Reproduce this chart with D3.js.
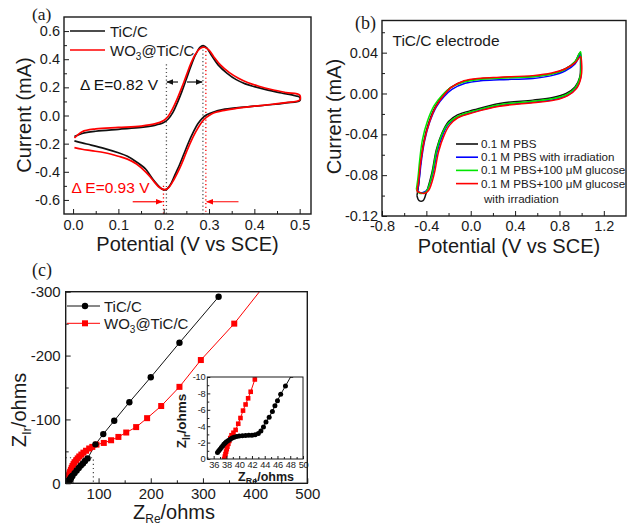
<!DOCTYPE html>
<html>
<head>
<meta charset="utf-8">
<script src="https://cdn.jsdelivr.net/npm/d3@7"></script>
<style>
  body { margin: 0; background: #fff; }
</style>
</head>
<body>
<script>
// ---- panel (a): CV, [potential V, current mA]
var ticA = [[0.003,-0.150],[0.02,-0.128],[0.05,-0.112],[0.1,-0.098],[0.15,-0.085],[0.18,-0.07],[0.2,-0.05],
  [0.21,-0.025],[0.22,0.02],[0.23,0.09],[0.24,0.17],[0.25,0.26],[0.26,0.35],[0.27,0.43],[0.28,0.485],[0.287,0.497],
  [0.295,0.48],[0.305,0.43],[0.32,0.36],[0.34,0.30],[0.36,0.255],[0.38,0.225],[0.4,0.205],[0.43,0.18],[0.46,0.16],
  [0.49,0.14],[0.5,0.13],[0.5,0.105],[0.47,0.09],[0.44,0.078],[0.4,0.066],[0.36,0.055],[0.33,0.042],[0.31,0.025],
  [0.295,0.005],[0.285,-0.02],[0.275,-0.06],[0.265,-0.12],[0.255,-0.19],[0.245,-0.27],[0.235,-0.35],[0.225,-0.42],
  [0.215,-0.49],[0.205,-0.527],[0.198,-0.525],[0.19,-0.505],[0.18,-0.47],[0.17,-0.425],[0.16,-0.38],[0.14,-0.33],
  [0.12,-0.29],[0.1,-0.265],[0.07,-0.235],[0.04,-0.21],[0.02,-0.195],[0.003,-0.18]];
var wo3A = [[0.003,-0.16],[0.02,-0.115],[0.05,-0.095],[0.1,-0.085],[0.15,-0.075],[0.18,-0.06],[0.2,-0.035],
  [0.21,-0.005],[0.22,0.05],[0.23,0.12],[0.24,0.2],[0.25,0.285],[0.26,0.37],[0.27,0.435],[0.28,0.475],[0.29,0.485],
  [0.3,0.465],[0.31,0.42],[0.325,0.36],[0.345,0.305],[0.365,0.265],[0.385,0.235],[0.41,0.208],[0.44,0.183],
  [0.47,0.163],[0.5,0.145],[0.5,0.11],[0.47,0.092],[0.44,0.08],[0.4,0.066],[0.36,0.05],[0.33,0.035],[0.31,0.018],
  [0.3,0.0],[0.29,-0.025],[0.28,-0.065],[0.27,-0.12],[0.26,-0.185],[0.25,-0.26],[0.24,-0.34],[0.23,-0.41],
  [0.22,-0.47],[0.21,-0.515],[0.2,-0.527],[0.19,-0.51],[0.18,-0.475],[0.17,-0.435],[0.16,-0.4],[0.14,-0.345],
  [0.12,-0.31],[0.1,-0.29],[0.07,-0.265],[0.04,-0.25],[0.02,-0.24],[0.003,-0.228]];
var peaksTiC = [0.206, 0.2865];
var peaksWO3 = [0.1995, 0.293];

// ---- panel (b): TiC/C electrode CVs
var pbs = [[-0.485,-0.100],[-0.47,-0.09],[-0.455,-0.071],[-0.425,-0.048],[-0.38,-0.029],[-0.32,-0.013],
  [-0.25,-0.002],[-0.18,0.006],[-0.06,0.012],[0.09,0.0145],[0.26,0.0155],[0.56,0.0167],[0.73,0.0194],[0.85,0.024],
  [0.94,0.031],[0.985,0.040],[0.99,0.03],[0.983,0.016],[0.94,0.0064],[0.86,0.0],[0.74,-0.004],[0.56,-0.0065],
  [0.26,-0.0097],[0.03,-0.016],[-0.12,-0.021],[-0.2,-0.0275],[-0.26,-0.039],[-0.31,-0.055],[-0.35,-0.0775],
  [-0.4,-0.097],[-0.43,-0.105],[-0.465,-0.105],[-0.485,-0.100]];
var pbsIrr = [[-0.48,-0.096],[-0.465,-0.085],[-0.445,-0.066],[-0.415,-0.046],[-0.37,-0.028],[-0.31,-0.013],
  [-0.24,-0.003],[-0.17,0.004],[-0.05,0.010],[0.09,0.0125],[0.26,0.0135],[0.56,0.0147],[0.73,0.0175],[0.85,0.022],
  [0.94,0.029],[0.99,0.038],[0.995,0.03],[0.99,0.015],[0.95,0.005],[0.87,-0.002],[0.75,-0.006],[0.56,-0.0085],
  [0.26,-0.012],[0.03,-0.018],[-0.12,-0.0235],[-0.2,-0.030],[-0.25,-0.04],[-0.3,-0.056],[-0.34,-0.078],
  [-0.39,-0.094],[-0.43,-0.097],[-0.46,-0.097],[-0.48,-0.096]];
var pbsGlu = [[-0.49,-0.094],[-0.475,-0.082],[-0.46,-0.065],[-0.435,-0.045],[-0.39,-0.027],[-0.33,-0.012],
  [-0.26,-0.002],[-0.19,0.005],[-0.07,0.011],[0.09,0.014],[0.26,0.015],[0.56,0.0165],[0.73,0.019],[0.85,0.0235],
  [0.94,0.031],[0.99,0.041],[0.995,0.032],[0.988,0.017],[0.945,0.006],[0.865,-0.001],[0.745,-0.005],[0.56,-0.0075],
  [0.26,-0.011],[0.03,-0.017],[-0.12,-0.0225],[-0.2,-0.029],[-0.26,-0.040],[-0.31,-0.057],[-0.35,-0.08],
  [-0.4,-0.096],[-0.44,-0.098],[-0.47,-0.097],[-0.49,-0.094]];
var pbsGluIrr = [[-0.485,-0.096],[-0.47,-0.086],[-0.452,-0.068],[-0.42,-0.047],[-0.375,-0.029],[-0.315,-0.013],
  [-0.245,-0.002],[-0.175,0.006],[-0.06,0.0125],[0.09,0.015],[0.26,0.016],[0.56,0.0175],[0.73,0.020],[0.85,0.024],
  [0.94,0.030],[0.99,0.036],[1.0,0.03],[0.995,0.016],[0.955,0.005],[0.875,-0.002],[0.755,-0.0065],[0.56,-0.009],
  [0.26,-0.0125],[0.03,-0.0185],[-0.12,-0.024],[-0.19,-0.031],[-0.24,-0.041],[-0.29,-0.057],[-0.33,-0.079],
  [-0.38,-0.095],[-0.42,-0.098],[-0.46,-0.097],[-0.485,-0.096]];
var seriesB = ["0.1 M PBS", "0.1 M PBS with irradiation", "0.1 M PBS+100 \u03bcM glucose", "0.1 M PBS+100 \u03bcM glucose"];
var colorsB = ["#111", "#0000ff", "#00e600", "#ff0000"];

// ---- panel (c): Nyquist, [Z_Re, Z_Im] (ohms)
var ticZ = [[36.6,-0.8],[36.8,-1.0],[37.0,-1.2],[37.2,-1.4],[37.4,-1.6],[37.6,-1.8],[37.8,-1.95],[38.0,-2.1],
  [38.3,-2.25],[38.6,-2.4],[38.9,-2.55],[39.2,-2.65],[39.6,-2.75],[40.0,-2.8],[40.5,-2.85],[41.0,-2.88],[41.5,-2.9],
  [42.0,-2.9],[42.5,-2.95],[43.0,-3.1],[43.4,-3.4],[43.8,-3.9],[44.2,-4.5],[44.7,-5.1],[45.2,-5.8],[45.6,-6.5],
  [46.0,-7.1],[46.5,-7.9],[47.25,-8.9],[48.2,-10.2],[50,-12],[54,-16],[58,-20],[62,-24],[66,-28],[70,-31],
  [74,-35],[79,-39],[94,-61],[109,-77],[130,-98],[159,-127],[200,-166],[255,-220],[330,-292]];
var wo3Z = [[37.65,0],[37.75,-0.3],[37.85,-0.6],[37.95,-0.9],[38.05,-1.2],[38.15,-1.5],[38.3,-1.85],[38.45,-2.2],
  [38.6,-2.55],[38.8,-2.9],[39.1,-3.2],[39.44,-3.55],[39.85,-4.3],[40.2,-5.0],[40.6,-5.9],[41.0,-6.65],[41.4,-7.4],
  [41.8,-8.2],[42.45,-9.7],[43.3,-12.5],[44.3,-15.5],[45.5,-18],[47,-21],[48.5,-24],[50,-27],[52,-30],[54,-33],
  [57,-36],[60,-39],[63,-42],[67,-45],[71,-48],[76,-51],[82,-54.5],[88,-57],[96,-60.6],[110,-63.2],[124,-67.4],
  [138,-72.6],[153,-79.5],[172,-88],[193,-102],[220,-121],[255,-151],[296,-193],[360,-250],[420,-312]];

var sans = "'Liberation Sans', Arial, sans-serif";
var serif = "'Liberation Serif', 'Times New Roman', serif";
var ink = "#1a1a1a";

var svg = d3.select("body").append("svg")
  .attr("width", 627).attr("height", 525)
  .style("font-family", sans);
svg.append("rect").attr("width", 627).attr("height", 525).attr("fill", "#fff");

function fmt(p) {
  var f = d3.format(p);
  return function(v) { return f(v).replace("\u2212", "-"); };
}

var clipCount = 0;
// one framed plot with inward major/minor ticks
function panel(box, xd, yd, o) {
  var x = d3.scaleLinear().domain(xd).range([box.l, box.r]);
  var y = d3.scaleLinear().domain(yd).range([box.b, box.t]);
  var g = svg.append("g");
  g.append("rect").attr("x", box.l).attr("y", box.t)
    .attr("width", box.r - box.l).attr("height", box.b - box.t).attr("fill", "#fff");
  var id = "clip" + (clipCount++);
  g.append("clipPath").attr("id", id).append("rect")
    .attr("x", box.l).attr("y", box.t).attr("width", box.r - box.l).attr("height", box.b - box.t);
  var plot = g.append("g").attr("clip-path", "url(#" + id + ")");

  function ax(axis, tr) {
    var a = g.append("g").attr("transform", tr).call(axis);
    a.select(".domain").remove();
    a.attr("font-size", o.fs).attr("font-family", null);
    a.selectAll("line").attr("stroke", ink).attr("stroke-width", 1);
    a.selectAll("text").attr("fill", ink).attr("letter-spacing", o.ls || null);
  }
  var bt = "translate(0," + box.b + ")", lt = "translate(" + box.l + ",0)";
  ax(d3.axisBottom(x).tickValues(o.xm).tickSize(-o.mt).tickFormat(""), bt);
  ax(d3.axisBottom(x).tickValues(o.xt).tickSize(-o.tk).tickPadding(o.xp).tickFormat(fmt(o.xf)), bt);
  ax(d3.axisLeft(y).tickValues(o.ym).tickSize(-o.mt).tickFormat(""), lt);
  ax(d3.axisLeft(y).tickValues(o.yt).tickSize(-o.tk).tickPadding(o.yp).tickFormat(fmt(o.yf)), lt);

  g.append("rect").attr("x", box.l).attr("y", box.t)
    .attr("width", box.r - box.l).attr("height", box.b - box.t)
    .attr("fill", "none").attr("stroke", ink).attr("stroke-width", o.bw || 1.4);
  return { x: x, y: y, g: g, plot: plot };
}

function label(x, y, size, rot) {
  return svg.append("text").attr("font-size", size).attr("fill", ink).attr("text-anchor", "middle")
    .attr("transform", "translate(" + x + "," + y + ")" + (rot ? " rotate(-90)" : ""));
}

var smooth = d3.curveCatmullRom.alpha(0.5);

// ================= (a)
var A = panel({ l: 64, r: 311, t: 17, b: 214 }, [-0.02, 0.525], [-0.7, 0.7], {
  xt: [0, 0.1, 0.2, 0.3, 0.4, 0.5], xm: [0.05, 0.15, 0.25, 0.35, 0.45],
  yt: [-0.6, -0.4, -0.2, 0, 0.2, 0.4, 0.6], ym: [-0.5, -0.3, -0.1, 0.1, 0.3, 0.5],
  xf: ".1f", yf: ".1f", fs: 14.5, tk: 5, mt: 3, xp: 6, yp: 4
});
var lineA = d3.line().x(d => A.x(d[0])).y(d => A.y(d[1])).curve(smooth);

// peak guides
peaksTiC.forEach(function(p, i) {
  A.plot.append("line").attr("x1", A.x(p)).attr("x2", A.x(p))
    .attr("y1", A.y(i ? 0.495 : 0.364)).attr("y2", A.y(-0.7))
    .attr("stroke", "#555").attr("stroke-width", 1.3).attr("stroke-dasharray", "1.2,2.6");
});
peaksWO3.forEach(function(p, i) {
  A.plot.append("line").attr("x1", A.x(p)).attr("x2", A.x(p))
    .attr("y1", A.y(i ? 0.485 : -0.5)).attr("y2", A.y(-0.7))
    .attr("stroke", "#ff0000").attr("stroke-width", 1.3).attr("stroke-dasharray", "1.2,2.6");
});

A.plot.append("path").datum(ticA).attr("d", lineA).attr("fill", "none").attr("stroke", "#111").attr("stroke-width", 1.7);
A.plot.append("path").datum(wo3A).attr("d", lineA).attr("fill", "none").attr("stroke", "#ff0000").attr("stroke-width", 1.7);

// arrow heads
var defs = svg.append("defs");
[["hk", "#111"], ["hr", "#ff0000"]].forEach(function(m) {
  defs.append("marker").attr("id", m[0]).attr("viewBox", "0 0 10 10").attr("refX", 9).attr("refY", 5)
    .attr("markerWidth", 6).attr("markerHeight", 6).attr("orient", "auto-start-reverse")
    .append("path").attr("d", "M0,1 L10,5 L0,9 Z").attr("fill", m[1]);
});
function arrow(x1, x2, yv, col, id) {
  A.g.append("line").attr("x1", A.x(x1)).attr("x2", A.x(x2)).attr("y1", A.y(yv)).attr("y2", A.y(yv))
    .attr("stroke", col).attr("stroke-width", 1.2).attr("marker-end", "url(#" + id + ")");
}
arrow(0.2315, 0.207, 0.238, "#111", "hk");
arrow(0.2514, 0.2847, 0.238, "#111", "hk");
arrow(0.1316, 0.197, -0.613, "#ff0000", "hr");
arrow(0.365, 0.295, -0.613, "#ff0000", "hr");

A.g.append("text").attr("x", 80).attr("y", 90).attr("font-size", 15.5).attr("fill", "#111")
  .text("\u0394 E=0.82 V");
A.g.append("text").attr("x", 71.5).attr("y", 193).attr("font-size", 15.5).attr("fill", "#ff0000")
  .text("\u0394 E=0.93 V");

// legend (a)
var legA = A.g.append("g");
legA.append("line").attr("x1", 70).attr("x2", 105).attr("y1", 31).attr("y2", 31).attr("stroke", "#111").attr("stroke-width", 1.7);
legA.append("text").attr("x", 110).attr("y", 36.5).attr("font-size", 15).attr("fill", ink).text("TiC/C");
legA.append("line").attr("x1", 70).attr("x2", 105).attr("y1", 50).attr("y2", 50).attr("stroke", "#ff0000").attr("stroke-width", 1.7);
var wt = legA.append("text").attr("x", 110).attr("y", 55.5).attr("font-size", 15).attr("fill", ink);
wt.append("tspan").text("WO");
wt.append("tspan").attr("font-size", 10).attr("dy", 4).text("3");
wt.append("tspan").attr("dy", -4).text("@TiC/C");

label(31, 115, 20, true).text("Current (mA)");
label(187.5, 251, 20, false).text("Potential (V vs SCE)");
svg.append("text").attr("x", 32).attr("y", 20).attr("font-family", serif).attr("font-size", 17.5).attr("fill", ink).text("(a)");

// ================= (b)
var B = panel({ l: 382, r: 626, t: 20.5, b: 216 }, [-0.8, 1.4], [-0.12, 0.0715], {
  xt: [-0.8, -0.4, 0, 0.4, 0.8, 1.2], xm: [-0.6, -0.2, 0.2, 0.6, 1.0],
  yt: [-0.12, -0.08, -0.04, 0, 0.04], ym: [-0.1, -0.06, -0.02, 0.02, 0.06],
  xf: ".1f", yf: ".2f", fs: 14.5, tk: 5, mt: 3, xp: 4.5, yp: 4
});
var lineB = d3.line().x(d => B.x(d[0])).y(d => B.y(d[1])).curve(smooth);
[pbs, pbsIrr, pbsGlu, pbsGluIrr].forEach(function(s, i) {
  B.plot.append("path").datum(s).attr("d", lineB).attr("fill", "none")
    .attr("stroke", colorsB[i]).attr("stroke-width", 1.5);
});
B.g.append("text").attr("x", 392.5).attr("y", 46).attr("font-size", 15.5).attr("fill", ink).text("TiC/C electrode");

var legB = B.g.append("g");
seriesB.forEach(function(s, i) {
  var yy = 144 + i * 13.2;
  legB.append("line").attr("x1", 456).attr("x2", 478).attr("y1", yy).attr("y2", yy)
    .attr("stroke", colorsB[i]).attr("stroke-width", 1.6);
  legB.append("text").attr("x", 481).attr("y", yy + 4).attr("font-size", 11.6).attr("fill", ink).text(s);
});
legB.append("text").attr("x", 484).attr("y", 203).attr("font-size", 11.6).attr("fill", ink).text("with irradiation");

label(341, 116.5, 20, true).text("Current (mA)");
label(509, 252.5, 20, false).text("Potential (V vs SCE)");
svg.append("text").attr("x", 355).attr("y", 29).attr("font-family", serif).attr("font-size", 18).attr("fill", ink).text("(b)");

// ================= (c)
var C = panel({ l: 65.7, r: 307.3, t: 291.7, b: 483.3 }, [37, 500], [0, -300], {
  xt: [100, 200, 300, 400, 500], xm: [50, 150, 250, 350, 450],
  yt: [0, -100, -200, -300], ym: [-50, -150, -250],
  xf: "d", yf: "d", fs: 15, tk: 5, mt: 3, xp: 5, yp: 5
});
function nyquist(P, rad, sq, lw) {
  var ln = d3.line().x(d => P.x(d[0])).y(d => P.y(d[1]));
  P.plot.append("path").datum(ticZ).attr("d", ln).attr("fill", "none").attr("stroke", "#111").attr("stroke-width", lw);
  P.plot.append("path").datum(wo3Z).attr("d", ln).attr("fill", "none").attr("stroke", "#ff0000").attr("stroke-width", lw);
  P.plot.selectAll(null).data(wo3Z).enter().append("rect")
    .attr("x", d => P.x(d[0]) - sq / 2).attr("y", d => P.y(d[1]) - sq / 2)
    .attr("width", sq).attr("height", sq).attr("fill", "#ff0000");
  P.plot.selectAll(null).data(ticZ).enter().append("circle")
    .attr("cx", d => P.x(d[0])).attr("cy", d => P.y(d[1])).attr("r", rad).attr("fill", "#000");
}
// guide lines around the high-frequency region
C.plot.append("path")
  .attr("d", "M" + C.x(37) + "," + C.y(-40) + "H" + C.x(90) + "V" + C.y(0))
  .attr("fill", "none").attr("stroke", "#444").attr("stroke-width", 1.2).attr("stroke-dasharray", "1.2,3");
nyquist(C, 3.2, 6, 1);

var legC = C.g.append("g");
legC.append("line").attr("x1", 67).attr("x2", 100).attr("y1", 306).attr("y2", 306).attr("stroke", "#111");
legC.append("circle").attr("cx", 85).attr("cy", 306).attr("r", 3.2).attr("fill", "#000");
legC.append("text").attr("x", 104).attr("y", 311.5).attr("font-size", 15).attr("fill", ink).text("TiC/C");
legC.append("line").attr("x1", 67).attr("x2", 100).attr("y1", 323.3).attr("y2", 323.3).attr("stroke", "#ff0000");
legC.append("rect").attr("x", 82).attr("y", 320.3).attr("width", 6).attr("height", 6).attr("fill", "#ff0000");
var wc = legC.append("text").attr("x", 104).attr("y", 329).attr("font-size", 15).attr("fill", ink);
wc.append("tspan").text("WO");
wc.append("tspan").attr("font-size", 10).attr("dy", 4).text("3");
wc.append("tspan").attr("dy", -4).text("@TiC/C");

var zy = label(26, 410, 20, true);
zy.append("tspan").text("Z");
zy.append("tspan").attr("font-size", 13).attr("dy", 5).text("Ir");
zy.append("tspan").attr("dy", -5).text("/ohms");
var zx = svg.append("text").attr("x", 133).attr("y", 519).attr("font-size", 20).attr("fill", ink);
zx.append("tspan").text("Z");
zx.append("tspan").attr("font-size", 12).attr("dy", 4).text("Re");
zx.append("tspan").attr("dy", -4).text("/ohms");
svg.append("text").attr("x", 32).attr("y", 276).attr("font-family", serif).attr("font-size", 18).attr("fill", ink).text("(c)");

// inset
var I = panel({ l: 207.3, r: 303, t: 377, b: 459 }, [35, 50], [0, -10], {
  xt: [36, 38, 40, 42, 44, 46, 48, 50], xm: [35, 37, 39, 41, 43, 45, 47, 49],
  yt: [0, -2, -4, -6, -8, -10], ym: [-1, -3, -5, -7, -9],
  xf: "d", yf: "d", fs: 9.3, ls: -0.3, tk: 3, mt: 2, xp: 2, yp: 2, bw: 1
});
nyquist(I, 2.5, 4.6, 1);
var iy = label(186, 421, 13.5, true).attr("font-weight", "bold");
iy.append("tspan").text("Z");
iy.append("tspan").attr("font-size", 10).attr("dy", 4).text("Ir");
iy.append("tspan").attr("dy", -4).text("/ohms");
var ix = label(266, 481, 12.5, false).attr("font-weight", "bold");
ix.append("tspan").text("Z");
ix.append("tspan").attr("font-size", 9).attr("dy", 2.5).text("Re");
ix.append("tspan").attr("dy", -2.5).text("/ohms");
</script>
</body>
</html>
